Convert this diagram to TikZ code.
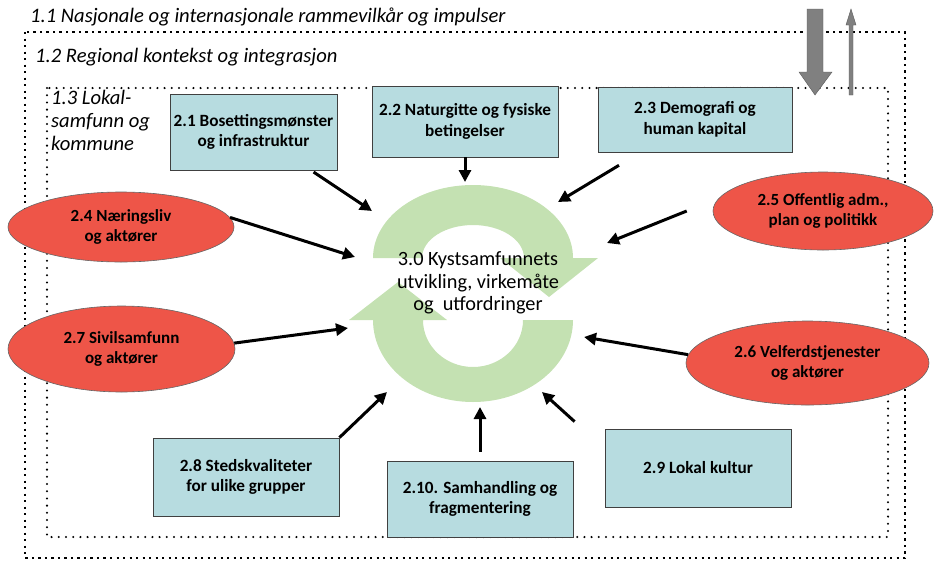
\documentclass[tikz,border=0pt]{standalone}
\usepackage{fontspec}
\setmainfont{Carlito}
\usetikzlibrary{shapes.geometric,arrows.meta,positioning}

\definecolor{boxblue}{RGB}{183,220,224}
\definecolor{aktorred}{RGB}{238,85,72}
\definecolor{ringgreen}{RGB}{196,225,178}
\definecolor{pilgray}{RGB}{128,128,128}

\tikzset{
  faktor/.style={draw=black!75, fill=boxblue, line width=0.8pt, align=center,
    inner sep=1pt, font=\bfseries\fontsize{17.2}{20.5}\selectfont},
  aktor/.style={ellipse, draw=black!60, fill=aktorred, line width=0.6pt, align=center,
    inner sep=0pt, font=\bfseries\fontsize{17}{19.5}\selectfont},
  niva/.style={anchor=west, align=left, inner sep=0pt,
    font=\itshape\fontsize{20.6}{23}\selectfont},
  pil/.style={line width=3pt, -{Triangle[length=12pt,width=12pt]}}
}

\begin{document}
\begin{tikzpicture}
        [x=1pt, y=1pt]
        \useasboundingbox (0,0) rectangle (936,-563);

        \draw [line width=2.2pt, dash pattern=on 2.2pt off 4.3pt] (25,-32) rectangle (905,-558);
        \draw [line width=2.3pt, line cap=round, dash pattern=on 0pt off 7.2pt] (47,-88) rectangle (888,-537);

        \node [niva] (nasjonal) at (30,-17) {1.1 Nasjonale og internasjonale rammevilkår og impulser};
        \node [niva] (regional) at (35,-57) {1.2 Regional kontekst og integrasjon};
        \node [niva, anchor=north west] (lokal) at (51,-90) {1.3 Lokal-\\samfunn og\\kommune};

        \filldraw [fill=pilgray, draw=pilgray!70!black] (807,-9) -- (823,-9) -- (823,-72) -- (832,-72)
            -- (815,-95) -- (799,-72) -- (807,-72) -- cycle;
        \filldraw [fill=pilgray, draw=pilgray!70!black] (849,-95) -- (853,-95) -- (853,-25) -- (856,-25)
            -- (851,-9) -- (846,-25) -- (849,-25) -- cycle;

        \fill [ringgreen] (373,-258) arc [start angle=180, end angle=0, x radius=100, y radius=73]
            -- (598,-258) -- (549,-297) -- (500,-258) -- (524,-258)
            arc [start angle=0, end angle=180, x radius=51, y radius=33] -- cycle;
        \fill [ringgreen] (523,-320) arc [start angle=0, end angle=-180, x radius=50, y radius=47]
            -- (447,-320) -- (398,-282) -- (349,-320) -- (373,-320)
            arc [start angle=180, end angle=360, x radius=100, y radius=82] -- cycle;
        \node [align=center, font=\fontsize{20.3}{22.5}\selectfont] (kyst) at (478,-283)
            {3.0 Kystsamfunnets\\utvikling, virkemåte\\og\ \ utfordringer};

        \node [faktor, minimum width=167pt, minimum height=76pt] (bosetting) at (253.5,-132) {2.1 Bosettingsmønster\\og infrastruktur};
        \node [faktor, minimum width=186pt, minimum height=71pt] (naturgitte) at (465,-121.5) {2.2 Naturgitte og fysiske\\betingelser};
        \node [faktor, minimum width=194pt, minimum height=65pt] (demografi) at (695,-119.5) {2.3 Demografi og\\human kapital};
        \node [faktor, minimum width=186pt, minimum height=78pt] (sted) at (246,-477) {2.8 Stedskvaliteter\\for ulike grupper};
        \node [faktor, minimum width=186pt, minimum height=76pt] (samhandling) at (480,-499) {2.10. Samhandling og\\fragmentering};
        \node [faktor, minimum width=186pt, minimum height=78pt] (kultur) at (698,-468) {2.9 Lokal kultur};

        \node [aktor, minimum width=226pt, minimum height=70pt] (naering) at (121,-227) {2.4 Næringsliv\\og aktører};
        \node [aktor, minimum width=227pt, minimum height=86pt] (sivil) at (121.5,-349) {2.7 Sivilsamfunn\\og aktører};
        \node [aktor, minimum width=220pt, minimum height=78pt] (offentlig) at (823,-211) {2.5 Offentlig adm.,\\plan og politikk};
        \node [aktor, minimum width=243pt, minimum height=84pt] (velferd) at (807.5,-363) {2.6 Velferdstjenester\\og aktører};

        \coordinate (inn21) at (372,-211);
        \coordinate (inn22) at (465,-182);
        \coordinate (inn23) at (558,-202);
        \coordinate (inn24) at (355,-257);
        \coordinate (inn25) at (607,-243);
        \coordinate (inn26) at (584,-337);
        \coordinate (inn27) at (348,-328);
        \coordinate (inn28) at (387,-392);
        \coordinate (inn29) at (542,-392);
        \coordinate (inn210) at (480,-407);

        \draw [pil, shorten <=3pt] (bosetting) -- (inn21);
        \draw [pil] (naturgitte.south) -- (inn22);
        \draw [pil, shorten <=25pt] (demografi) -- (inn23);
        \draw [pil] (naering.5) -- (inn24);
        \draw [pil] ([xshift=-26pt]offentlig.west) -- (inn25);
        \draw [pil] (velferd.176) -- (inn26);
        \draw [pil] (sivil.3) -- (inn27);
        \draw [pil] (sted.north east) -- (inn28);
        \draw [pil] ([xshift=-30pt,yshift=7pt]kultur.north west) -- (inn29);
        \draw [pil, shorten <=9pt] (samhandling.north) -- (inn210);
    \end{tikzpicture}
\end{document}
